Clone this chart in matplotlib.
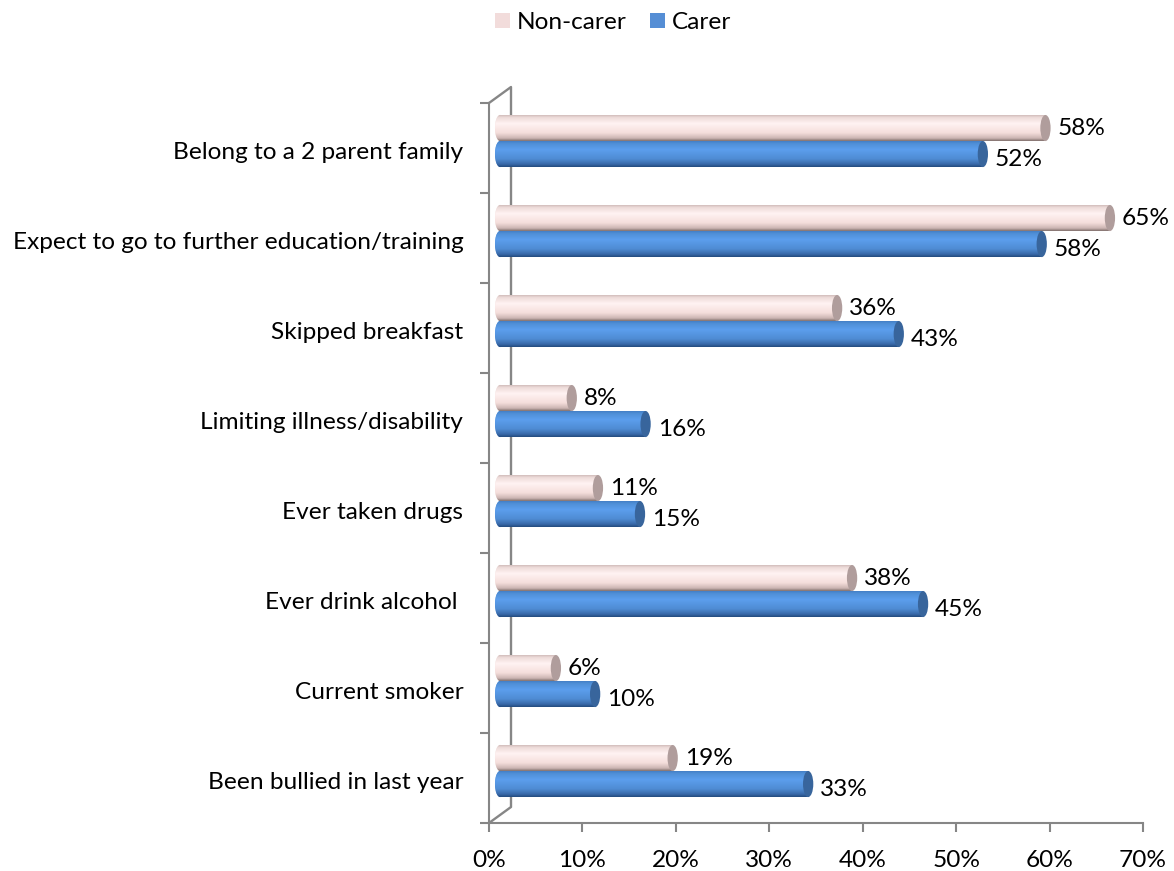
import matplotlib
matplotlib.use("Agg")
import matplotlib.pyplot as plt
from matplotlib.patches import Ellipse
import numpy as np

plt.rcParams['font.family'] = ['Lato', 'DejaVu Sans']

# data, top category first
categories = ['Belong to a 2 parent family', 'Expect to go to further education/training',
              'Skipped breakfast', 'Limiting illness/disability', 'Ever taken drugs',
              'Ever drink alcohol ', 'Current smoker', 'Been bullied in last year']
non_carer = [58.4, 65.3, 36.1, 7.7, 10.5, 37.7, 6.0, 18.5]
carer = [51.7, 58.0, 42.7, 15.6, 15.0, 45.3, 10.2, 33.0]
non_carer_labels = ['58%', '65%', '36%', '8%', '11%', '38%', '6%', '19%']
carer_labels = ['52%', '58%', '43%', '16%', '15%', '45%', '10%', '33%']
x_ticks = [0, 10, 20, 30, 40, 50, 60, 70]

W, H = 1174, 871
FS = 17.6
fig = plt.figure(figsize=(W / 100, H / 100), dpi=100)
ax = fig.add_axes([489 / W, 1 - 823 / H, 654 / W, 720 / H])

# gradients across the cylinders (position, r, g, b)
stops = [0, 0.12, 0.35, 0.7, 0.9, 1]
pink_grad = [[0.78, 0.70, 0.69], [0.93, 0.86, 0.85], [1.0, 0.95, 0.95], [0.96, 0.87, 0.86], [0.80, 0.71, 0.70], [0.52, 0.45, 0.44]]
blue_grad = [[0.25, 0.47, 0.75], [0.31, 0.56, 0.84], [0.36, 0.62, 0.93], [0.31, 0.55, 0.83], [0.22, 0.41, 0.66], [0.14, 0.30, 0.50]]


def make_grad(g):
    arr = np.array(g)
    s = np.linspace(0, 1, 60)
    return np.stack([np.interp(s, stops, arr[:, i]) for i in range(3)], axis=1)[:, None, :]


LEFT = 0.64      # bars start a little inside the front axis
SHIFT = 1.07     # 3d depth shift of the bar ends
CAP = 0.55       # half width of the end ellipses
BAR_H = 0.29


def draw_series(vals, labels, offset, color, cap_color, grad, name, label_dy):
    y = np.arange(len(vals)) + offset
    ends = np.array(vals) + LEFT + SHIFT
    bars = ax.barh(y, ends - CAP - (LEFT + CAP), left=LEFT + CAP, height=BAR_H, color=color,
                   label=name, zorder=3)
    img = make_grad(grad)
    for i, b in enumerate(bars):
        top, bot = y[i] - BAR_H / 2, y[i] + BAR_H / 2
        im = ax.imshow(img, extent=(LEFT + CAP, ends[i] - CAP, bot, top), aspect='auto', zorder=3.1)
        im.set_clip_path(b)
        # rounded left end
        e = Ellipse((LEFT + CAP, y[i]), 2 * CAP, BAR_H, facecolor=color, edgecolor='none', zorder=3)
        ax.add_patch(e)
        im2 = ax.imshow(img, extent=(LEFT, LEFT + 2 * CAP, bot, top), aspect='auto', zorder=3.1)
        im2.set_clip_path(e)
        # end cap
        ax.add_patch(Ellipse((ends[i] - CAP, y[i]), 2 * CAP, BAR_H, facecolor=cap_color,
                             edgecolor='none', zorder=3.2))
        ax.annotate(labels[i], (ends[i], y[i]), xytext=(7, label_dy), textcoords='offset pixels',
                    ha='left', va='center', fontsize=FS, color='black', zorder=5)
    return bars


y_pos = np.arange(len(categories))
draw_series(non_carer, non_carer_labels, -0.222, '#f2dcdb', '#b09d9c', pink_grad, 'Non-carer', 0)
draw_series(carer, carer_labels, 0.067, '#558ed5', '#38659c', blue_grad, 'Carer', -5)

ax.set_xlim(0, 70)
ax.set_ylim(7.5, -0.5)

# axes
for s in ['top', 'right']:
    ax.spines[s].set_visible(False)
for s in ['left', 'bottom']:
    ax.spines[s].set_color('#868686')
    ax.spines[s].set_linewidth(1.5)
ax.set_xticks(x_ticks)
ax.set_xticklabels(['%d%%' % t for t in x_ticks], fontsize=FS)
ax.set_yticks(np.arange(len(categories) + 1) - 0.5)
ax.set_yticklabels([])
ax.tick_params(axis='both', which='major', length=6.5, width=1.5, color='#868686')
ax.tick_params(axis='x', pad=13)

# category labels sit a bit below the group centre
ax.set_yticks(y_pos + 0.03, minor=True)
ax.set_yticklabels(categories, minor=True, fontsize=FS)
ax.tick_params(axis='y', which='minor', length=0, pad=18.5)

# back wall of the 3d chart
dx, dy = 22 / 654, 16 / 720
ax.plot([0, dx, dx, 0], [0, dy, 1 + dy, 1], transform=ax.transAxes, color='#868686',
        lw=1.7, clip_on=False, zorder=1)

fig.legend(loc='upper left', bbox_to_anchor=(495 / W, 1 - 12 / H), ncol=2, frameon=False, fontsize=FS,
           borderpad=0, borderaxespad=0,
           handlelength=0.6, handleheight=0.6, handletextpad=0.3, columnspacing=0.95)

fig.savefig('out.png', dpi=100)
